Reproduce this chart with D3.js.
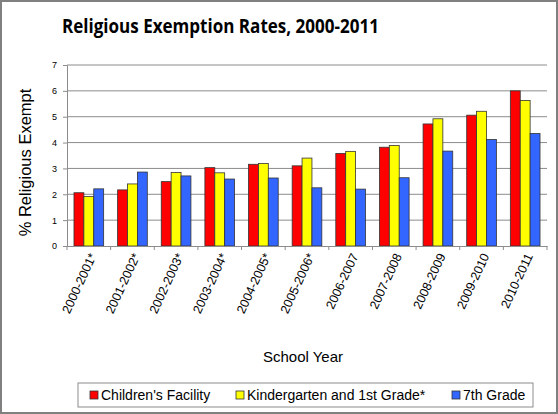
<!DOCTYPE html>
<html>
<head>
<meta charset="utf-8">
<script src="https://cdn.jsdelivr.net/npm/d3@7"></script>
<style>
  html, body { margin: 0; padding: 0; background: #fff; }
  svg { display: block; }
</style>
</head>
<body>
<svg id="chart"></svg>
<script>
const years = ["2000-2001*", "2001-2002*", "2002-2003*", "2003-2004*", "2004-2005*",
  "2005-2006*", "2006-2007", "2007-2008", "2008-2009", "2009-2010", "2010-2011"];
const seriesNames = ["Children's Facility", "Kindergarten and 1st Grade*", "7th Grade"];
const childrensFacility = [2.06, 2.17, 2.49, 3.03, 3.16, 3.10, 3.58, 3.82, 4.72, 5.06, 6.00];
const kinderFirst = [1.91, 2.40, 2.84, 2.83, 3.19, 3.40, 3.66, 3.89, 4.92, 5.21, 5.63];
const seventhGrade = [2.21, 2.86, 2.71, 2.59, 2.63, 2.25, 2.20, 2.64, 3.67, 4.12, 4.35];
const yTicks = [0, 1, 2, 3, 4, 5, 6, 7];
const colors = ["#ff0000", "#ffff00", "#3366ff"];

const W = 558, H = 414;
const margin = { top: 65, right: 11, bottom: 168, left: 67 };
const width = W - margin.left - margin.right;
const height = H - margin.top - margin.bottom;

const svg = d3.select("#chart").attr("width", W).attr("height", H);

// frame
svg.append("rect")
  .attr("x", 1).attr("y", 1).attr("width", W - 2).attr("height", H - 2)
  .attr("fill", "#fff").attr("stroke", "#808080").attr("stroke-width", 2);

svg.append("text")
  .attr("x", 62).attr("y", 33)
  .attr("textLength", 317).attr("lengthAdjust", "spacingAndGlyphs")
  .style("font-family", "'Open Sans', sans-serif")
  .style("font-weight", "bold")
  .style("font-size", "20px")
  .text("Religious Exemption Rates, 2000-2011");

const g = svg.append("g").attr("transform", `translate(${margin.left},${margin.top})`);

const x0 = d3.scaleBand().domain(years).range([0, width]).paddingInner(0).paddingOuter(0);
const x1 = d3.scaleBand().domain(seriesNames).range([x0.bandwidth() * 0.16, x0.bandwidth() * 0.84]);
const y = d3.scaleLinear().domain([0, 7]).range([height, 0]);

// gridlines
g.selectAll(".grid")
  .data(yTicks.slice(1))
  .enter().append("line")
  .attr("x1", 0).attr("x2", width)
  .attr("y1", d => y(d)).attr("y2", d => y(d))
  .attr("stroke", "#8c8c8c").attr("stroke-width", 1);

// y axis
const yAxis = g.append("g")
  .call(d3.axisLeft(y).tickValues(yTicks).tickFormat(d3.format("d")).tickSize(4).tickPadding(6));
yAxis.select(".domain").attr("stroke", "#8c8c8c");
yAxis.selectAll(".tick line").attr("stroke", "#8c8c8c");
yAxis.selectAll("text")
  .style("font-family", "'Liberation Sans', Arial, sans-serif")
  .style("font-size", "9px").attr("fill", "#000");

// bars
const data = years.map((yr, i) => ({
  year: yr,
  values: [childrensFacility[i], kinderFirst[i], seventhGrade[i]]
}));

const groups = g.selectAll(".grp")
  .data(data)
  .enter().append("g")
  .attr("transform", d => `translate(${x0(d.year)},0)`);

groups.selectAll("rect")
  .data(d => d.values.map((v, k) => ({ name: seriesNames[k], value: v, k })))
  .enter().append("rect")
  .attr("x", d => x1(d.name))
  .attr("width", x1.bandwidth())
  .attr("y", d => y(d.value))
  .attr("height", d => y(0) - y(d.value))
  .attr("fill", d => colors[d.k])
  .attr("stroke", "#333")
  .attr("stroke-width", 0.8);

// x axis
const xAxis = g.append("g")
  .attr("transform", `translate(0,${height})`)
  .call(d3.axisBottom(x0).tickSize(0).tickPadding(0));
xAxis.select(".domain").attr("stroke", "#8c8c8c");
xAxis.selectAll(".tick text")
  .style("font-family", "'Liberation Sans', Arial, sans-serif")
  .style("font-size", "12.5px")
  .attr("fill", "#000")
  .attr("text-anchor", "end")
  .attr("transform", "translate(4,8) rotate(-65)")
  .attr("dy", "0.35em")
  .attr("y", 0).attr("x", 0);

// boundary ticks
xAxis.selectAll(".bound")
  .data(d3.range(years.length + 1))
  .enter().append("line")
  .attr("x1", i => i * x0.step()).attr("x2", i => i * x0.step())
  .attr("y1", 0).attr("y2", 4)
  .attr("stroke", "#8c8c8c");

// axis titles
svg.append("text")
  .attr("transform", `translate(31,${margin.top + height / 2 + 7}) rotate(-90)`)
  .attr("text-anchor", "middle")
  .style("font-family", "'Liberation Sans', Arial, sans-serif")
  .style("font-size", "16.5px")
  .text("% Religious Exempt");

svg.append("text")
  .attr("x", 303).attr("y", 362)
  .attr("text-anchor", "middle")
  .style("font-family", "'Liberation Sans', Arial, sans-serif")
  .style("font-size", "15px")
  .text("School Year");

// legend
const legend = svg.append("g").attr("transform", "translate(78,383)");
legend.append("rect")
  .attr("width", 455).attr("height", 24)
  .attr("fill", "#fff").attr("stroke", "#8c8c8c").attr("stroke-width", 1);

const legendX = [12, 158, 374];
const items = legend.selectAll(".item")
  .data(seriesNames)
  .enter().append("g")
  .attr("transform", (d, i) => `translate(${legendX[i]},0)`);
items.append("rect")
  .attr("x", 0).attr("y", 8).attr("width", 8).attr("height", 8)
  .attr("fill", (d, i) => colors[i]).attr("stroke", "#333").attr("stroke-width", 0.8);
items.append("text")
  .attr("x", 11).attr("y", 17)
  .style("font-family", "'Liberation Sans', Arial, sans-serif")
  .style("font-size", "14px")
  .text(d => d);
</script>
</body>
</html>
